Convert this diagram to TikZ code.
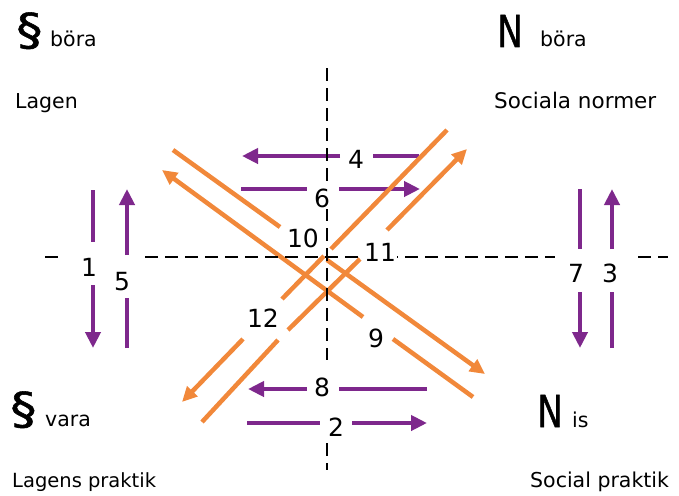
\documentclass[tikz,border=0pt]{standalone}
\usepackage{fontspec}
\setmainfont{DejaVu Sans}
\newfontfamily\heavyfont{DejaVu Sans}[FakeBold=1.2]
\usetikzlibrary{arrows.meta}
\definecolor{orangec}{RGB}{241,136,58}
\definecolor{purplec}{RGB}{126,40,140}
\tikzset{
  orangeline/.style={draw=orangec, line width=4.5pt},
  purpleline/.style={draw=purplec, line width=4.5pt},
  otip/.style={-{Triangle[length=15pt,width=14pt]}},
  ptip/.style={-{Triangle[length=16pt,width=15pt]}},
  axisline/.style={draw=black, line width=2.2pt, dash pattern=on 13pt off 7pt},
  num/.style={font=\fontsize{25}{25}\selectfont, fill=white, inner sep=1.5pt},
  lbl/.style={font=\fontsize{20.5}{24}\selectfont, anchor=base west, inner sep=0pt},
  big/.style={font=\heavyfont\fontsize{44}{44}\selectfont, anchor=base west, inner sep=0pt}
}
\begin{document}
\begin{tikzpicture}[x=1pt,y=-1pt]
\useasboundingbox (0,0) rectangle (679,495);

% ---- purple horizontal arrows ----
\coordinate (p4a) at (419,156); \coordinate (p4b) at (373,156);
\coordinate (p4c) at (340,156); \coordinate (p4d) at (242,156);
\draw[purpleline] (p4a) -- (p4b);
\draw[purpleline,ptip] (p4c) -- (p4d);

\coordinate (p6a) at (241,189); \coordinate (p6b) at (307,189);
\coordinate (p6c) at (339,189); \coordinate (p6d) at (420,189);
\draw[purpleline] (p6a) -- (p6b);
\draw[purpleline,ptip] (p6c) -- (p6d);

\coordinate (p8a) at (427,389); \coordinate (p8b) at (339,389);
\coordinate (p8c) at (307,389); \coordinate (p8d) at (248,389);
\draw[purpleline] (p8a) -- (p8b);
\draw[purpleline,ptip] (p8c) -- (p8d);

\coordinate (p2a) at (247,423); \coordinate (p2b) at (320,423);
\coordinate (p2c) at (352,423); \coordinate (p2d) at (427,423);
\draw[purpleline] (p2a) -- (p2b);
\draw[purpleline,ptip] (p2c) -- (p2d);

% ---- purple vertical arrows ----
\coordinate (p1a) at (93,190); \coordinate (p1b) at (93,242);
\coordinate (p1c) at (93,285); \coordinate (p1d) at (93,348);
\draw[purpleline] (p1a) -- (p1b);
\draw[purpleline,ptip] (p1c) -- (p1d);

\coordinate (p5a) at (127,348); \coordinate (p5b) at (127,298);
\coordinate (p5c) at (127,255); \coordinate (p5d) at (127,189);
\draw[purpleline] (p5a) -- (p5b);
\draw[purpleline,ptip] (p5c) -- (p5d);

\coordinate (p7a) at (580,189); \coordinate (p7b) at (580,249);
\coordinate (p7c) at (580,292); \coordinate (p7d) at (580,348);
\draw[purpleline] (p7a) -- (p7b);
\draw[purpleline,ptip] (p7c) -- (p7d);

\coordinate (p3a) at (612,348); \coordinate (p3b) at (612,292);
\coordinate (p3c) at (612,249); \coordinate (p3d) at (612,189);
\draw[purpleline] (p3a) -- (p3b);
\draw[purpleline,ptip] (p3c) -- (p3d);

% ---- orange diagonals ----
% descending, tip bottom right (10)
\coordinate (d1a) at (173,150); \coordinate (d1b) at (280,227);
\coordinate (d1c) at (327,260); \coordinate (d1d) at (485,374);
\draw[orangeline] (d1a) -- (d1b);
\draw[orangeline,otip] (d1c) -- (d1d);
% descending, tip top left (9)
\coordinate (d2a) at (162,170); \coordinate (d2b) at (363,317);
\coordinate (d2c) at (393,339); \coordinate (d2d) at (473,397);
\draw[orangeline,otip] (d2b) -- (d2a);
\draw[orangeline] (d2c) -- (d2d);
% ascending, tip top right (11)
\coordinate (a1a) at (202,422); \coordinate (a1b) at (278,340);
\coordinate (a1c) at (288,330); \coordinate (a1d) at (360,259);
\coordinate (a1e) at (387,230); \coordinate (a1f) at (467,149);
\draw[orangeline] (a1a) -- (a1b);
\draw[orangeline] (a1c) -- (a1d);
\draw[orangeline,otip] (a1e) -- (a1f);
% ascending, tip bottom left (12)
\coordinate (a2a) at (447,130); \coordinate (a2b) at (331,249);
\coordinate (a2c) at (324,256); \coordinate (a2d) at (282,299);
\coordinate (a2e) at (243,339); \coordinate (a2f) at (182,402);
\draw[orangeline] (a2a) -- (a2b);
\draw[orangeline] (a2c) -- (a2d);
\draw[orangeline,otip] (a2e) -- (a2f);

% ---- dashed axes ----
\coordinate (h1) at (45,257); \coordinate (h2) at (62,257);
\coordinate (h3) at (145,257); \coordinate (h4) at (555,257);
\coordinate (h5) at (638,257); \coordinate (h6) at (668,257);
\coordinate (v1) at (327,68); \coordinate (v2) at (327,360);
\coordinate (v3) at (327,443); \coordinate (v4) at (327,470);
\draw[axisline] (h1) -- (h2);
\draw[axisline] (h3) -- (h4);
\draw[axisline] (h5) -- (h6);
\draw[axisline] (v1) -- (v2);
\draw[axisline] (v3) -- (v4);

% ---- number labels ----
\node[num] (n1) at (89,267) {1};
\node[num] (n2) at (336,427) {2};
\node[num] (n3) at (610,273) {3};
\node[num] (n4) at (356,159) {4};
\node[num] (n5) at (122,282) {5};
\node[num] (n6) at (322,198) {6};
\node[num] (n7) at (576,273) {7};
\node[num] (n8) at (322,387) {8};
\node[num] (n9) at (376,338) {9};
\node[num] (n10) at (303,238) {10};
\node[num] (n11) at (380,252) {11};
\node[num] (n12) at (263,318) {12};

% ---- corner texts ----
\node[big] (sec1) at (16,45) {\scalebox{1.2}[1]{§}};
\node[lbl] (bora1) at (50,47) {böra};
\node[lbl] (lagen) at (15,108) {Lagen};
\node[big] (nn1) at (497,47) {\scalebox{0.78}[1]{N}};
\node[lbl] (bora2) at (540,47) {böra};
\node[lbl,font=\fontsize{21.5}{24}\selectfont] (socn) at (494,108) {Sociala normer};
\node[big] (sec2) at (10,424) {\scalebox{1.2}[1]{§}};
\node[lbl] (vara) at (45,426) {vara};
\node[lbl,font=\fontsize{19.5}{24}\selectfont] (lagp) at (12,487) {Lagens praktik};
\node[big] (nn2) at (537,427) {\scalebox{0.78}[1]{N}};
\node[lbl] (is) at (572,427) {is};
\node[lbl] (socp) at (530,487) {Social praktik};
\end{tikzpicture}
\end{document}
